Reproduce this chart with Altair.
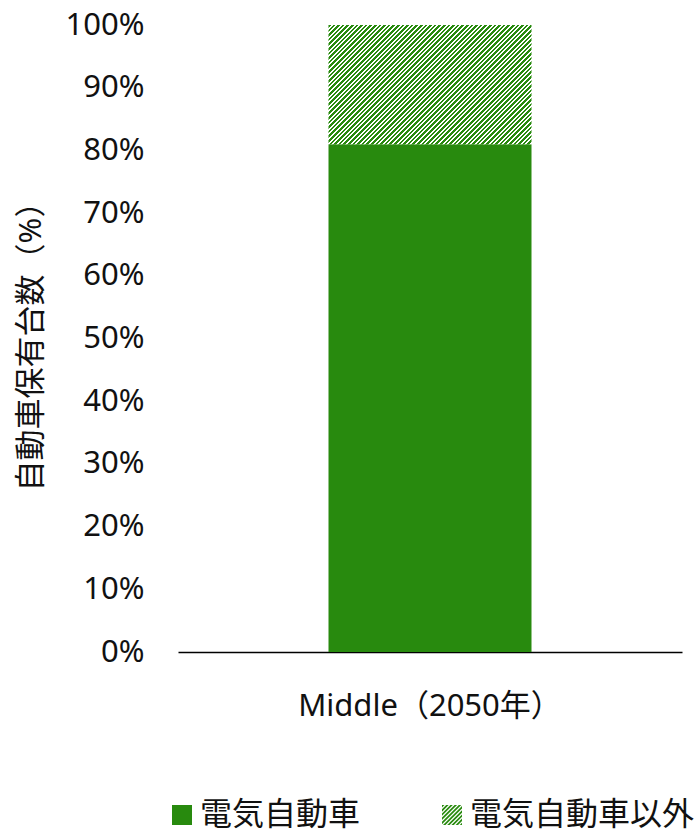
import altair as alt
import pandas as pd

# ---- data ----
categories = ["Middle（2050年）"]
types = ["電気自動車", "電気自動車以外"]
shares = [81, 19]          # % of vehicle stock
stack_order = [1, 2]
y_ticks = [0, 10, 20, 30, 40, 50, 60, 70, 80, 90, 100]
y_title = "自動車保有台数（%）"

# ---- styling ----
GREEN = "#288A0E"
TEXT = "#111111"
FONT = "Noto Sans, Noto Sans CJK JP, sans-serif"
FS = 31
PLOT_W, PLOT_H = 504, 627
BAR_W = 203
HATCH_PERIOD = 4.6
HATCH_FILL = 0.58

df = pd.DataFrame({
    "cat": [categories[0]] * len(types),
    "type": types,
    "value": shares,
    "order": stack_order,
})


def hatch_gradient(w, h, period, frac):
    """Hard-stop linear gradient producing 45° '/' stripes on a w x h box."""
    span = w + h
    s = span / (w * w + h * h)
    dt = period / span
    stops = []
    k = 0
    while k * dt < 1:
        a = round(k * dt, 5)
        m = round(min(k * dt + dt * frac, 1), 5)
        b = round(min(k * dt + dt, 1), 5)
        stops += [
            {"offset": a, "color": GREEN},
            {"offset": m, "color": GREEN},
            {"offset": m, "color": "#ffffff"},
            {"offset": b, "color": "#ffffff"},
        ]
        k += 1
    return {"gradient": "linear", "x1": 0, "y1": 0,
            "x2": round(w * s, 5), "y2": round(h * s, 5), "stops": stops}


def clip(poly, fn):
    out = []
    n = len(poly)
    for i in range(n):
        p, q = poly[i], poly[(i + 1) % n]
        fp, fq = fn(p), fn(q)
        if fp >= 0:
            out.append(p)
        if (fp >= 0) != (fq >= 0):
            t = fp / (fp - fq)
            out.append((p[0] + t * (q[0] - p[0]), p[1] + t * (q[1] - p[1])))
    return out


def hatch_symbol_path(period=0.4, frac=0.55):
    square = [(-1, -1), (1, -1), (1, 1), (-1, 1)]
    parts = []
    k = 0
    while -2 + k * period < 2:
        a = -2 + k * period
        b = a + period * frac
        poly = clip(square, lambda p, a=a: p[0] + p[1] - a)
        poly = clip(poly, lambda p, b=b: b - (p[0] + p[1]))
        if len(poly) >= 3:
            parts.append("M" + "L".join(f"{x:.3f},{y:.3f}" for x, y in poly) + "Z")
        k += 1
    return "".join(parts)


hatch_h = PLOT_H * shares[1] / 100
grad = hatch_gradient(BAR_W, hatch_h, HATCH_PERIOD, HATCH_FILL)

legend = alt.Legend(
    title=None, orient="none", direction="horizontal",
    legendX=-12, legendY=774, padding=0,
    labelFontSize=32, labelFont=FONT, labelColor=TEXT, labelOffset=2, labelLimit=0,
    symbolSize=400, symbolStrokeWidth=0, columnPadding=75,
)

x_enc = alt.X("cat:N", title=None,
              axis=alt.Axis(labelAngle=0, ticks=False, tickSize=0, labelPadding=39,
                            labelLimit=0,
                            domainColor="#000000", domainWidth=1.5,
                            labelFontSize=FS, labelColor=TEXT, labelFont=FONT))

# hidden points (behind the solid bar) that generate the legend
legend_layer = alt.Chart(df).mark_point(filled=True, size=100, opacity=1).encode(
    x=x_enc,
    y=alt.datum(40),
    color=alt.Color("type:N", scale=alt.Scale(domain=types, range=[GREEN, GREEN]), legend=legend),
    shape=alt.Shape("type:N", scale=alt.Scale(domain=types,
                                              range=["M-1,-1H1V1H-1Z",
                                                     hatch_symbol_path(0.42, HATCH_FILL)]),
                    legend=legend),
)

bars = alt.Chart(df).mark_bar(size=BAR_W, strokeWidth=0).encode(
    x=x_enc,
    y=alt.Y("value:Q", stack="zero", scale=alt.Scale(domain=[0, 100]),
            axis=alt.Axis(values=y_ticks, labelExpr="datum.value + '%'",
                          grid=False, domain=False, ticks=False, tickSize=0,
                          labelPadding=34, labelFontSize=FS, labelColor=TEXT, labelFont=FONT,
                          title=y_title, titleFontSize=FS, titleFont=FONT,
                          titleFontWeight="normal", titleColor=TEXT, titlePadding=18)),
    detail="type:N",
    order=alt.Order("order:Q", sort="ascending"),
    fill=alt.condition(alt.datum.type == types[1], alt.value(grad), alt.value(GREEN)),
)

chart = alt.layer(legend_layer, bars).properties(
    width=PLOT_W, height=PLOT_H,
    padding={"left": 178, "top": 25, "right": 15, "bottom": 182},
    autosize=alt.AutoSizeParams(type="none"),
    background="#ffffff",
).configure_view(stroke=None)

chart.save("out.html", embed_options={"renderer": "svg", "actions": False})
